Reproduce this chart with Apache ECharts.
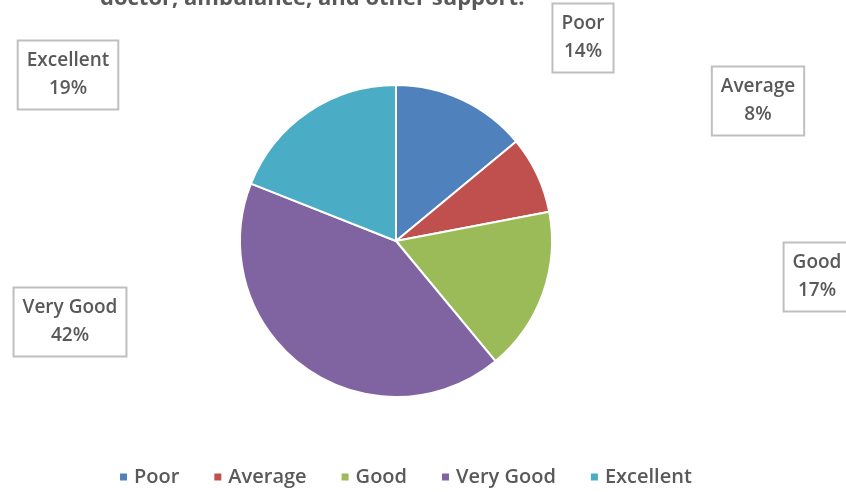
<!DOCTYPE html>
<html><head><meta charset="utf-8">
<script src="https://cdn.jsdelivr.net/npm/echarts@6/dist/echarts.min.js"></script>
<style>html,body{margin:0;padding:0;background:#fff}#c{width:846px;height:492px}</style>
</head><body><div id="c"></div>
<script>
const categories = ['Poor', 'Average', 'Good', 'Very Good', 'Excellent'];
const values = [14, 8, 17, 42, 19];
const colors = ['#4F81BD', '#C0504D', '#9BBB59', '#8064A2', '#4BACC6'];
const labelPos = [[583, 38], [758, 101], [817, 277], [70, 322], [68, 75]];
const titleText = 'doctor, ambulance, and other support.';

const chart = echarts.init(document.getElementById('c'));
chart.setOption({
  animation: false,
  color: colors,
  title: {
    text: titleText, left: 95, top: -17,
    textStyle: { fontFamily: 'Open Sans', fontSize: 22, fontWeight: 'bold', color: '#595959' }
  },
  legend: {
    bottom: 0, left: 113, itemWidth: 9, itemHeight: 9, itemGap: 33,
    icon: 'rect',
    textStyle: { fontFamily: 'Open Sans', fontSize: 20, fontWeight: 600, color: '#595959', padding: [0, 0, 0, 1] },
    data: categories
  },
  series: [{
    type: 'pie',
    center: [396, 241],
    radius: 156,
    startAngle: 90,
    clockwise: true,
    itemStyle: { borderColor: '#fff', borderWidth: 2 },
    label: {
      show: true,
      formatter: '{b}\n{d}%',
      fontFamily: 'Open Sans', fontSize: 19, fontWeight: 600, color: '#595959', lineHeight: 28,
      align: 'center',
      borderColor: '#bfbfbf', borderWidth: 2, backgroundColor: '#fff',
      padding: [6, 8, 5, 8]
    },
    labelLine: { show: false },
    labelLayout: function (p) {
      const pos = labelPos[p.dataIndex];
      return { x: pos[0], y: pos[1], align: 'center', verticalAlign: 'middle' };
    },
    data: categories.map((c, i) => ({ name: c, value: values[i] }))
  }]
});
</script></body></html>
